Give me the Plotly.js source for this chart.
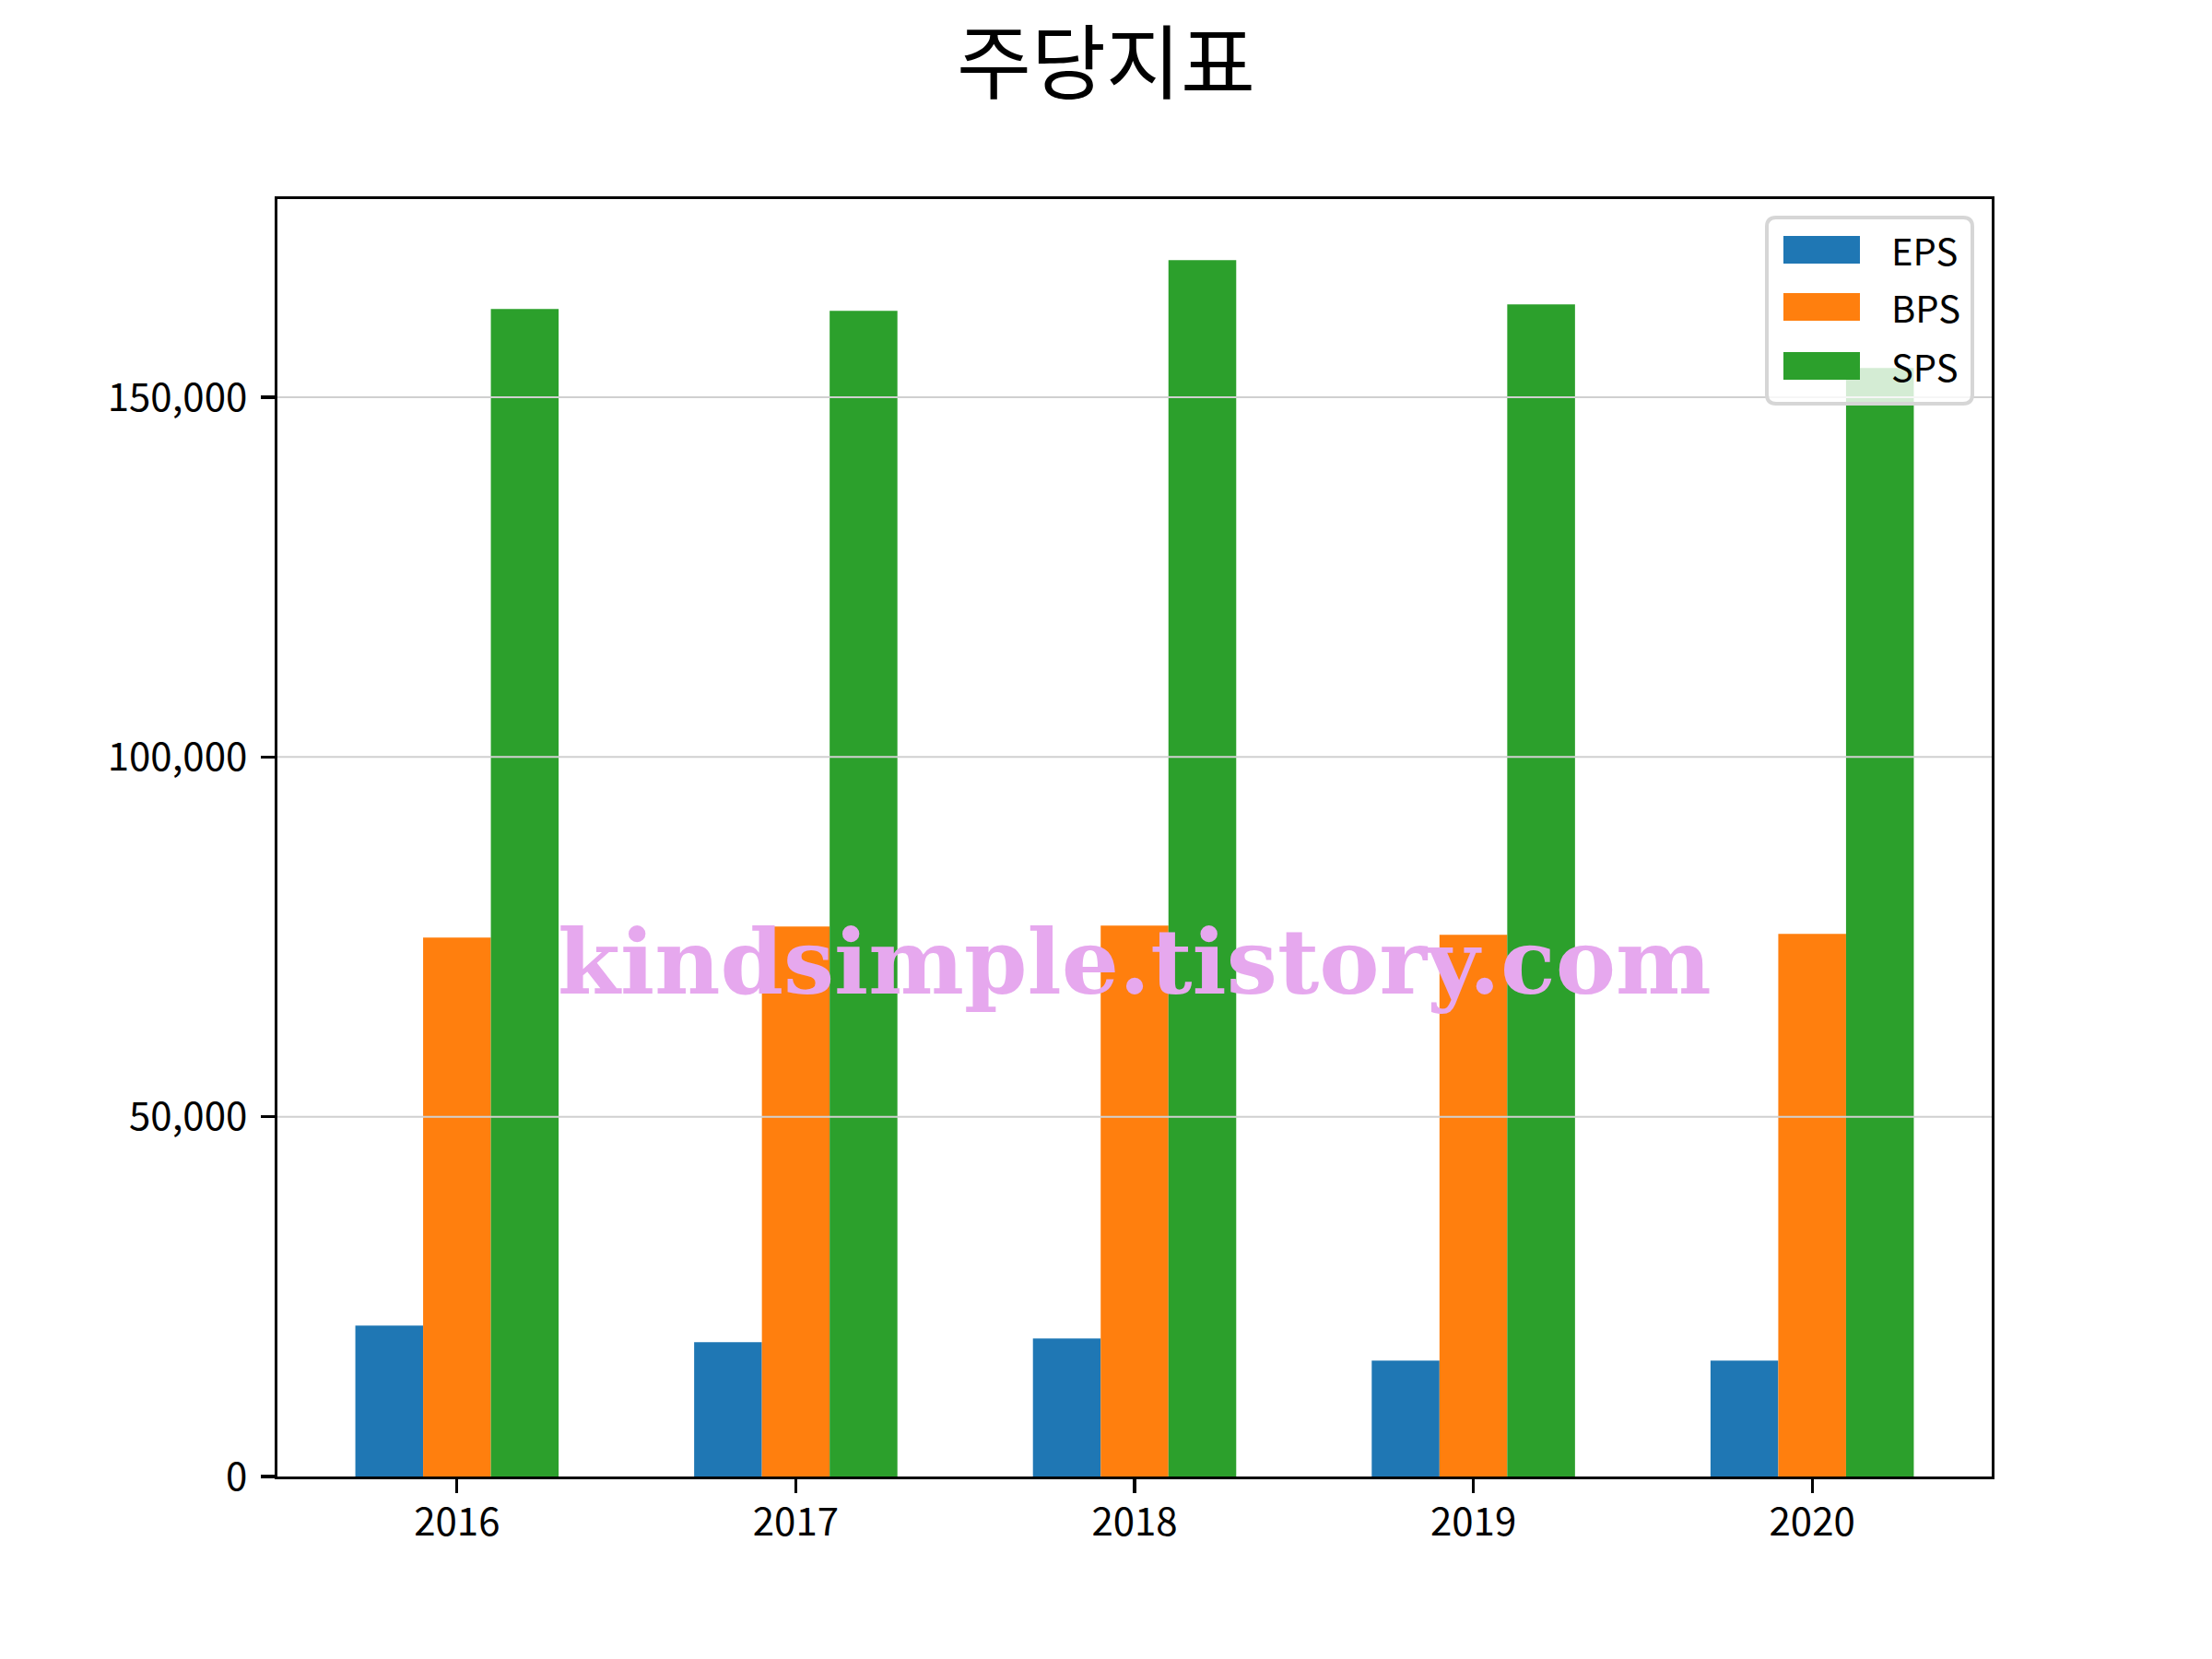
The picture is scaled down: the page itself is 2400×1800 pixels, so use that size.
<!DOCTYPE html>
<html>
<head>
<meta charset="utf-8">
<script src="https://cdn.plot.ly/plotly-3.0.1.min.js"></script>
<style>
  html, body { margin: 0; padding: 0; background: #fff; }
  #chart { width: 2400px; height: 1800px; }
</style>
</head>
<body>
<div id="chart"></div>
<script>
// values
const years = ["2016", "2017", "2018", "2019", "2020"];
const eps = [20970, 18660, 19180, 16100, 16100];
const bps = [74900, 76440, 76570, 75290, 75420];
const sps = [162270, 162010, 169060, 162910, 154070];

const seriesNames = ["EPS", "BPS", "SPS"];
const seriesColors = ["#1f77b4", "#ff7f0e", "#2ca02c"];
const yTicks = [0, 50000, 100000, 150000];

const chartTitle = "주당지표";
const watermark = "kindsimple.tistory.com";

const FONT = "'Noto Sans CJK KR', 'Noto Sans', sans-serif";

// plot area in page pixels
const M = { l: 301, r: 239, t: 216, b: 198 };
const plotW = 2400 - M.l - M.r;
const plotH = 1800 - M.t - M.b;
const px = (x) => (x - M.l) / plotW;
const py = (y) => (1800 - M.b - y) / plotH;

const traces = [eps, bps, sps].map((vals, i) => ({
  type: "bar",
  name: seriesNames[i],
  x: years,
  y: vals,
  marker: { color: seriesColors[i], line: { width: 0 } },
  showlegend: false,
  hoverinfo: "x+y+name",
}));

// grid lines sit above the bars, as in the source
const shapes = yTicks.slice(1).map((t) => ({
  type: "line",
  xref: "paper",
  yref: "y",
  x0: 0,
  x1: 1,
  y0: t,
  y1: t,
  layer: "above",
  line: { color: "#d0d0d0", width: 2 },
}));

// hand-drawn legend box (semi-transparent, rounded corners)
function roundedRect(x0, y0, x1, y1, rpx) {
  const rx = rpx / plotW;
  const ry = rpx / plotH;
  return (
    `M${x0 + rx},${y1} L${x1 - rx},${y1} Q${x1},${y1} ${x1},${y1 - ry} ` +
    `L${x1},${y0 + ry} Q${x1},${y0} ${x1 - rx},${y0} ` +
    `L${x0 + rx},${y0} Q${x0},${y0} ${x0},${y0 + ry} ` +
    `L${x0},${y1 - ry} Q${x0},${y1} ${x0 + rx},${y1} Z`
  );
}

shapes.push({
  type: "path",
  xref: "paper",
  yref: "paper",
  path: roundedRect(px(1917), py(438), px(2140), py(236), 10),
  fillcolor: "rgba(255,255,255,0.8)",
  line: { color: "#d6d6d6", width: 4 },
  layer: "above",
});

const rowPx = [271, 333, 397];
const annotations = [];

seriesNames.forEach((name, i) => {
  shapes.push({
    type: "rect",
    xref: "paper",
    yref: "paper",
    x0: px(1935),
    x1: px(2018),
    y0: py(rowPx[i] + 15),
    y1: py(rowPx[i] - 15),
    fillcolor: seriesColors[i],
    line: { width: 0 },
    layer: "above",
  });
  annotations.push({
    xref: "paper",
    yref: "paper",
    x: px(2050),
    y: py(rowPx[i]),
    xanchor: "left",
    yanchor: "middle",
    text: name,
    showarrow: false,
    font: { family: FONT, size: 40, color: "#000" },
  });
});

annotations.push({
  xref: "paper",
  yref: "paper",
  x: px(1231),
  y: py(1043),
  xanchor: "center",
  yanchor: "middle",
  text: "<b>" + watermark + "</b>",
  showarrow: false,
  font: { family: "'DejaVu Serif', serif", size: 98, color: "#e6a8ee" },
});

const axisStyle = {
  showgrid: false,
  zeroline: false,
  showline: true,
  mirror: true,
  linecolor: "#000",
  linewidth: 3.3,
  ticks: "outside",
  ticklen: 15,
  tickwidth: 3.3,
  tickcolor: "#000",
  tickfont: { family: FONT, size: 42, color: "#000" },
};

const layout = {
  width: 2400,
  height: 1800,
  margin: { l: M.l, r: M.r, t: M.t, b: M.b, pad: 0 },
  paper_bgcolor: "#fff",
  plot_bgcolor: "#fff",
  barmode: "group",
  bargap: 0.4,
  bargroupgap: 0,
  font: { family: FONT, size: 42, color: "#000" },
  title: {
    text: chartTitle,
    font: { family: FONT, size: 88, color: "#000" },
    x: 0.5,
    xref: "container",
    xanchor: "center",
    y: 1 - 69 / 1800,
    yref: "container",
    yanchor: "middle",
  },
  xaxis: Object.assign({}, axisStyle, {
    type: "category",
    range: [-0.53, 4.53],
    ticklabelstandoff: -5,
  }),
  yaxis: Object.assign({}, axisStyle, {
    range: [0, 177550],
    tickvals: yTicks,
    tickformat: ",",
    ticklabelstandoff: 6,
  }),
  shapes: shapes,
  annotations: annotations,
};

Plotly.newPlot("chart", traces, layout, { displayModeBar: false, staticPlot: true });
</script>
</body>
</html>
